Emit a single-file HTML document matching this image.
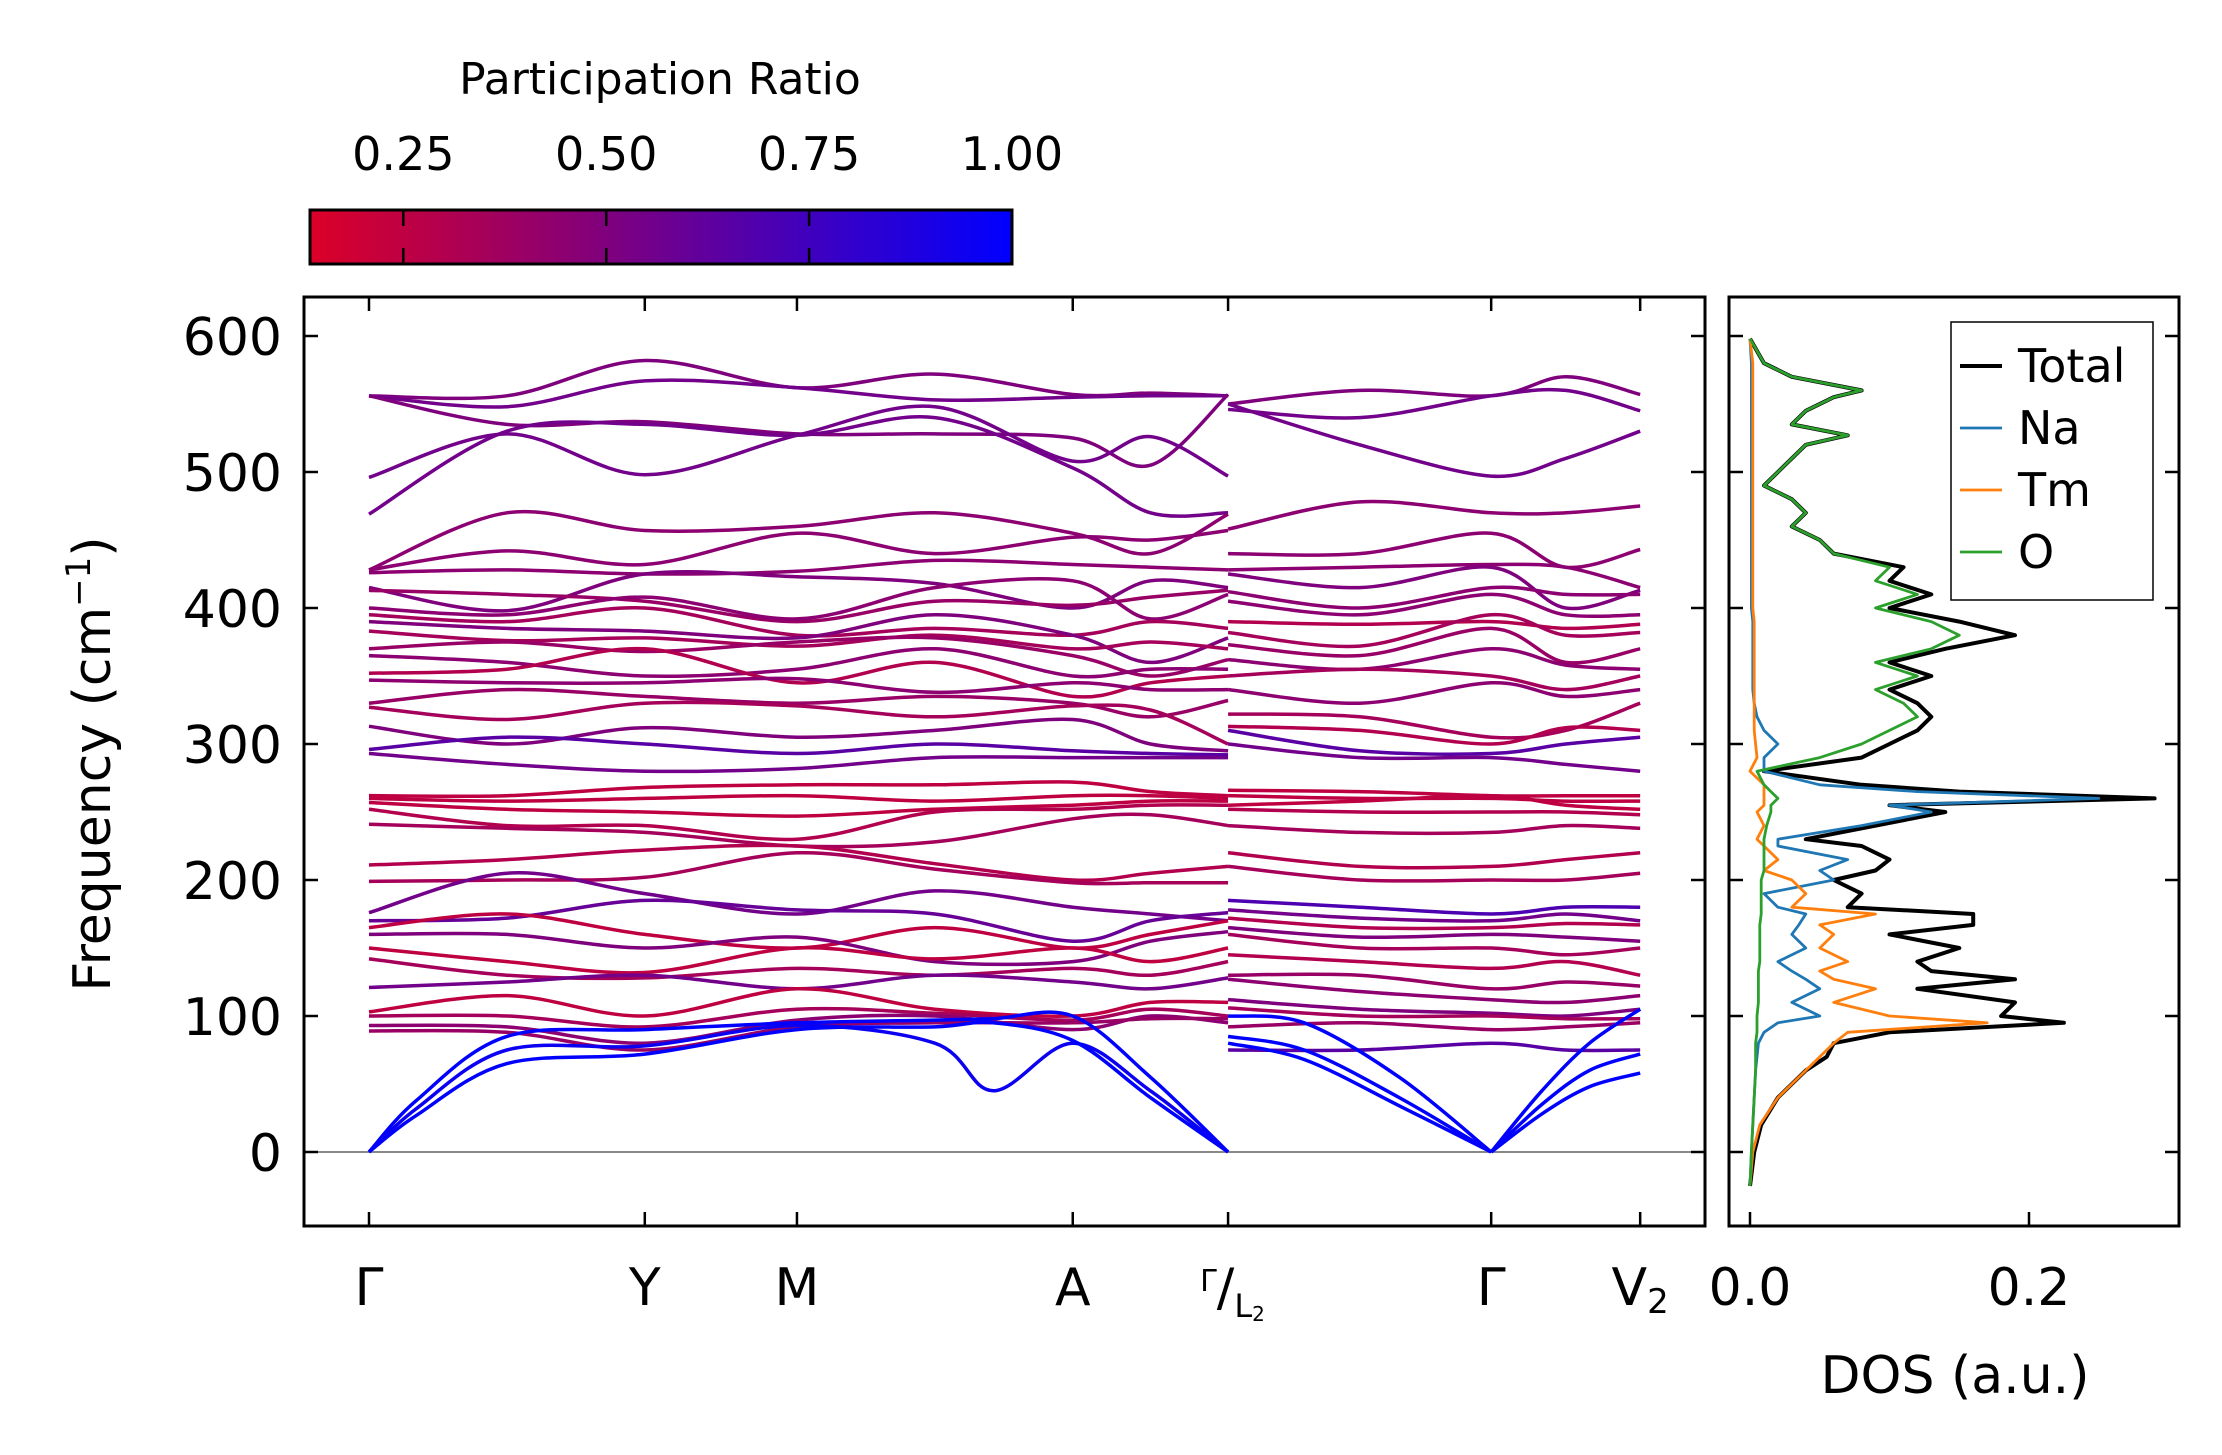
<!DOCTYPE html>
<html><head><meta charset="utf-8"><style>
html,body{margin:0;padding:0;background:#fff}
svg{display:block;font-family:"DejaVu Sans","Liberation Sans",sans-serif}
</style></head><body>
<svg id="fig" width="2222" height="1455" viewBox="0 0 2222 1455" xmlns="http://www.w3.org/2000/svg">
<defs>
<linearGradient id="cmap" x1="0" x2="1" y1="0" y2="0">
<stop offset="0" stop-color="rgb(220,0,40)"/>
<stop offset="0.42" stop-color="rgb(128,0,125)"/>
<stop offset="1" stop-color="rgb(0,0,255)"/>
</linearGradient>
<clipPath id="mainclip"><rect x="304" y="297" width="1401" height="929"/></clipPath>
<clipPath id="dosclip"><rect x="1729" y="297" width="450" height="929"/></clipPath>
</defs>
<g id="colorbar">
<text x="660" y="94" font-size="44" text-anchor="middle">Participation Ratio</text>
<rect x="310" y="210" width="702" height="54" fill="url(#cmap)" stroke="#000" stroke-width="3"/>
</g>
<g id="bands" clip-path="url(#mainclip)"></g>
<g id="dos" clip-path="url(#dosclip)"></g>
<g id="axes"></g>
<g id="legend">
<rect x="1951" y="322" width="202" height="278" fill="#fff" stroke="#000" stroke-width="1.5"/>
</g>
</svg>
<script>
// ---------- data ----------
const kTickLabels = ["Γ","Y","M","A","Γ/L2","Γ","V2"];
const kTicks = [0, 0.87, 1.35, 2.22, 2.71, 3.54, 4.01];
const kSamples1 = [0, 0.435, 0.87, 1.35, 1.785, 2.22, 2.465, 2.71];
const kSamples2 = [2.71, 3.125, 3.54, 3.775, 4.01];
const kAcoustic1 = [0, 0.15, 0.435, 0.87, 1.35, 1.785, 1.97, 2.22, 2.465, 2.71];
const kAcoustic2L = [2.71, 2.95, 3.25, 3.54];
const kAcoustic2R = [3.54, 3.7, 3.85, 4.01];
const bands1 = [
[556,556,582,562,572,557,558,556],[556,548,567,562,553,555,556,556],[556,535,537,528,528,525,505,557],
[496,528,498,527,548,508,526,497],[469,530,535,527,540,503,470,470],[428,470,457,460,470,455,440,469],
[428,442,432,455,440,452,450,457],[426,428,425,427,435,432,430,428],[415,398,425,423,418,400,420,415],
[413,410,405,390,405,402,408,413],[400,395,408,392,415,420,392,410],[395,390,400,380,385,380,390,385],
[390,385,383,378,395,380,360,378],[383,376,378,372,380,370,375,370],[370,375,368,375,378,365,350,362],
[365,360,350,355,370,350,355,355],[352,355,370,345,360,335,345,350],[347,345,345,348,338,345,340,340],
[330,340,335,330,335,330,320,332],[327,318,330,328,320,328,325,300],[313,300,312,305,310,318,300,295],
[296,305,300,293,300,295,293,292],[293,285,280,282,290,290,290,290],[262,262,268,270,270,272,265,262],
[260,258,260,262,258,262,262,260],[257,252,250,247,252,255,258,258],[252,240,240,230,250,252,255,255],
[241,238,235,225,228,245,248,240],[211,215,222,225,212,200,205,210],[199,200,202,220,208,198,198,198],
[176,205,190,175,192,180,175,170],[170,172,185,178,175,155,170,176],[165,175,160,150,165,150,160,170],
[160,160,150,158,140,140,155,162],[150,140,132,150,142,150,140,150],[142,130,128,135,130,135,130,140],
[121,125,130,120,130,125,120,128],[103,115,100,120,105,100,110,110],[100,100,92,105,102,97,105,100],
[93,92,80,97,100,90,100,95],[89,88,75,92,95,95,98,98]];
const ratios1 = [0.5,0.55,0.5,0.55,0.55,0.45,0.45,0.45,0.5,0.4,0.45,0.35,0.5,0.35,0.4,0.45,0.3,0.45,0.4,0.35,0.5,0.65,0.55,0.25,0.25,0.25,0.3,0.35,0.3,0.35,0.55,0.6,0.25,0.5,0.25,0.35,0.55,0.25,0.35,0.45,0.4];
const acoustic1 = [[0,38,85,90,95,97,98,100,55,0],[0,32,75,78,93,80,45,80,45,0],[0,27,65,72,90,92,95,82,40,0]];
const bands2 = [
[550,560,556,570,557],[546,540,556,560,545],[550,520,497,510,530],[458,478,470,470,475],
[440,440,455,430,443],[428,430,432,430,415],[425,415,430,400,413],[412,400,415,410,410],
[405,395,410,395,395],[390,388,390,385,388],[382,372,395,380,382],[373,365,385,360,370],
[362,355,370,358,355],[350,355,350,340,350],[340,330,345,335,340],[322,320,305,310,330],
[313,310,300,312,310],[310,295,293,300,305],[300,290,290,285,280],[266,265,262,262,262],
[262,260,260,258,258],[255,258,262,255,252],[252,250,250,250,248],[240,235,235,240,238],
[220,210,210,215,220],[210,200,200,200,205],[185,180,175,180,180],[178,172,170,175,170],
[172,165,165,168,167],[165,158,160,158,155],[160,150,150,145,150],[145,140,135,140,130],
[130,130,120,125,122],[127,118,112,110,115],[112,105,102,100,105],[106,100,100,98,98],
[92,95,90,92,95],[75,75,80,75,75]];
const ratios2 = [0.5,0.55,0.55,0.45,0.45,0.45,0.5,0.45,0.45,0.3,0.35,0.4,0.45,0.35,0.45,0.35,0.3,0.65,0.55,0.25,0.25,0.25,0.3,0.35,0.3,0.35,0.7,0.55,0.3,0.5,0.35,0.3,0.4,0.45,0.5,0.35,0.4,0.65];
const acoustic2L = [[100,95,55,0],[85,75,40,0],[80,68,34,0]];
const acoustic2R = [[0,45,80,105],[0,35,60,72],[0,28,48,58]];
const yTicks = [0,100,200,300,400,500,600];
const cbTicks = [0.25,0.5,0.75,1.0];
const dosFreq = [-25,0,20,40,60,70,80,88,95,100,110,120,127,133,140,150,160,167,175,180,190,200,207,215,225,230,240,250,255,260,265,270,280,290,300,310,320,330,340,350,360,370,380,390,400,410,420,430,440,450,460,470,480,490,500,510,520,527,535,545,555,560,570,580,598];
const dosTotal = [0,0.003,0.008,0.02,0.04,0.055,0.06,0.10,0.225,0.18,0.19,0.12,0.19,0.13,0.12,0.15,0.10,0.16,0.16,0.07,0.08,0.06,0.09,0.10,0.08,0.04,0.09,0.14,0.10,0.29,0.15,0.08,0.01,0.08,0.10,0.12,0.13,0.12,0.10,0.13,0.10,0.14,0.19,0.15,0.10,0.13,0.10,0.11,0.06,0.05,0.03,0.04,0.03,0.01,0.02,0.03,0.04,0.07,0.03,0.04,0.06,0.08,0.03,0.01,0.0];
const dosNa = [0,0.001,0.002,0.003,0.004,0.005,0.006,0.01,0.02,0.05,0.03,0.05,0.04,0.03,0.02,0.04,0.03,0.035,0.04,0.02,0.01,0.06,0.05,0.07,0.02,0.02,0.08,0.13,0.10,0.25,0.12,0.05,0.01,0.01,0.02,0.01,0.005,0.003,0.002,0.002,0.002,0.002,0.002,0.002,0.001,0.001,0.001,0.001,0.001,0.001,0.001,0.001,0.001,0.001,0.001,0.001,0.001,0.001,0.001,0.001,0.001,0.001,0.001,0.001,0];
const dosTm = [0,0.002,0.007,0.02,0.04,0.05,0.06,0.07,0.17,0.10,0.06,0.09,0.06,0.05,0.07,0.05,0.06,0.05,0.09,0.03,0.04,0.03,0.01,0.02,0.01,0.005,0.01,0.005,0.01,0.01,0.01,0.01,0.0,0.005,0.004,0.003,0.003,0.003,0.003,0.003,0.003,0.003,0.003,0.003,0.002,0.002,0.002,0.002,0.002,0.002,0.002,0.002,0.002,0.002,0.002,0.002,0.002,0.002,0.002,0.002,0.002,0.002,0.002,0.002,0];
const dosO = [0,0.001,0.002,0.003,0.004,0.004,0.004,0.005,0.005,0.005,0.006,0.006,0.006,0.006,0.007,0.007,0.007,0.007,0.008,0.008,0.008,0.008,0.01,0.01,0.01,0.01,0.012,0.015,0.015,0.02,0.015,0.01,0.005,0.05,0.08,0.10,0.12,0.11,0.09,0.12,0.09,0.13,0.15,0.13,0.09,0.12,0.09,0.10,0.06,0.05,0.03,0.04,0.03,0.01,0.02,0.03,0.04,0.07,0.03,0.04,0.06,0.08,0.03,0.01,0.0];
const dosTicks = [0.0,0.2];

// ---------- axes functions ----------
const NS = "http://www.w3.org/2000/svg";
const X0=304, X1=1705, Y0=297, Y1=1226, DX0=1729, DX1=2179;
const kx = k => 369 + k*317;
const fy = f => 1152 - f*1.36;
const dx = d => 1750 + d*1395;
const cbx = p => 310 + (p-0.135)/(1-0.135)*702;
function color(p){const t=Math.max(0,Math.min(1,(p-0.135)/(0.865)));
 let r,g,b; if(t<0.42){const u=t/0.42;r=220+(128-220)*u;g=0;b=40+(125-40)*u;} else {const u=(t-0.42)/0.58;r=128*(1-u);g=0;b=125+(255-125)*u;}
 return `rgb(${r|0},${g|0},${b|0})`;}
function mk(tag, attrs, parent){const e=document.createElementNS(NS,tag);for(const k in attrs)e.setAttribute(k,attrs[k]);parent.appendChild(e);return e;}
function smoothPath(pts){let d=`M${pts[0][0]},${pts[0][1]}`;
 for(let i=0;i<pts.length-1;i++){const p0=pts[Math.max(0,i-1)],p1=pts[i],p2=pts[i+1],p3=pts[Math.min(pts.length-1,i+2)];
 const c1=[p1[0]+(p2[0]-p0[0])/6,p1[1]+(p2[1]-p0[1])/6],c2=[p2[0]-(p3[0]-p1[0])/6,p2[1]-(p3[1]-p1[1])/6];
 d+=` C${c1[0].toFixed(1)},${c1[1].toFixed(1)} ${c2[0].toFixed(1)},${c2[1].toFixed(1)} ${p2[0]},${p2[1].toFixed(1)}`;}
 return d;}

const gB=document.getElementById('bands');
const zl=mk('line',{x1:X0,x2:X1,y1:fy(0),y2:fy(0),stroke:'#888',"stroke-width":2},gB);


function drawBands(bands, ratios, ks, tag){
 bands.forEach((b,i)=>{const pts=b.map((f,j)=>[kx(ks[j]),fy(f)]);
  const p=mk('path',{d:smoothPath(pts),fill:'none',stroke:color(ratios[i]),"stroke-width":3.5},gB);
  
  });}
drawBands(bands1, ratios1, kSamples1, 'left');
drawBands(bands2, ratios2, kSamples2, 'right');
drawBands(acoustic1, [1,0.95,1], kAcoustic1, 'left-acoustic');
drawBands(acoustic2L, [1,1,1], kAcoustic2L, 'right-acoustic-a');
drawBands(acoustic2R, [1,1,1], kAcoustic2R, 'right-acoustic-b');

const gD=document.getElementById('dos');
function drawDos(vals, col, w, name){const pts=vals.map((v,i)=>`${dx(v).toFixed(1)},${fy(dosFreq[i]).toFixed(1)}`).join(' ');
 const p=mk('polyline',{points:pts,fill:'none',stroke:col,"stroke-width":w,"stroke-linejoin":"round"},gD);
 
 }
drawDos(dosTotal,'#000',4,'dos-total');
drawDos(dosNa,'#1f77b4',2.8,'dos-na');
drawDos(dosTm,'#ff7f0e',2.8,'dos-tm');
drawDos(dosO,'#2ca02c',2.8,'dos-o');

const gA=document.getElementById('axes');
function frame(x0,x1,name){const r=mk('rect',{x:x0,y:Y0,width:x1-x0,height:Y1-Y0,fill:'none',stroke:'#000',"stroke-width":3},gA);
 
 }
frame(X0,X1,'band-axes-frame'); frame(DX0,DX1,'dos-axes-frame');
const TL=14;
yTicks.forEach(v=>{const y=fy(v);
 [[X0,X0+TL],[X1,X1-TL],[DX0,DX0+TL],[DX1,DX1-TL]].forEach(s=>mk('line',{x1:s[0],x2:s[1],y1:y,y2:y,stroke:'#000',"stroke-width":2.5},gA));
 const t=mk('text',{x:X0-22,y:y+19,"font-size":52,"text-anchor":"end"},gA);t.textContent=v;
 
 });
kTicks.forEach((k,i)=>{const x=kx(k);
 mk('line',{x1:x,x2:x,y1:Y1,y2:Y1-TL,stroke:'#000',"stroke-width":2.5},gA);
 mk('line',{x1:x,x2:x,y1:Y0,y2:Y0+TL,stroke:'#000',"stroke-width":2.5},gA);
 const lab=kTickLabels[i];
 const t=mk('text',{x:x,y:1305,"font-size":52,"text-anchor":"middle"},gA);
 
 
 if(lab==="Γ/L2"){t.setAttribute('text-anchor','start');t.setAttribute('x',x-28);
  t.innerHTML='<tspan font-size="30" dy="-14">Γ</tspan><tspan font-size="52" dy="14">/</tspan><tspan font-size="32" dy="12">L</tspan><tspan font-size="20" dy="4">2</tspan>';}
 else if(lab==="V2"){t.innerHTML='V<tspan font-size="34" dy="8">2</tspan>';}
 else t.textContent=lab;});
dosTicks.forEach(v=>{const x=dx(v);
 mk('line',{x1:x,x2:x,y1:Y1,y2:Y1-TL,stroke:'#000',"stroke-width":2.5},gA);
 const t=mk('text',{x:x,y:1305,"font-size":52,"text-anchor":"middle"},gA);t.textContent=v.toFixed(1);
 
 });
const yl=mk('text',{x:0,y:0,"font-size":52,"text-anchor":"middle",transform:"translate(110,764) rotate(-90)"},gA);
yl.innerHTML='Frequency (cm<tspan font-size="34" dy="-20">−1</tspan><tspan dy="20">)</tspan>';


const xl=mk('text',{x:1955,y:1393,"font-size":52,"text-anchor":"middle"},gA);xl.textContent='DOS (a.u.)';



const gC=document.getElementById('colorbar');
cbTicks.forEach(v=>{const x=cbx(v);
 mk('line',{x1:x,x2:x,y1:210,y2:226,stroke:'#000',"stroke-width":2.5},gC);
 mk('line',{x1:x,x2:x,y1:248,y2:264,stroke:'#000',"stroke-width":2.5},gC);
 const t=mk('text',{x:x,y:170,"font-size":46,"text-anchor":"middle"},gC);t.textContent=v.toFixed(2);
 
 });

const gL=document.getElementById('legend');
const legNames=['Total','Na','Tm','O'], legCols=['#000','#1f77b4','#ff7f0e','#2ca02c'], legW=[4,2.8,2.8,2.8];
legNames.forEach((n,i)=>{const y=366+i*62;
 mk('line',{x1:1960,x2:2002,y1:y,y2:y,stroke:legCols[i],"stroke-width":legW[i]},gL);
 const t=mk('text',{x:2018,y:y+16,"font-size":46},gL);t.textContent=n;
 
 });
</script>
</body></html>
